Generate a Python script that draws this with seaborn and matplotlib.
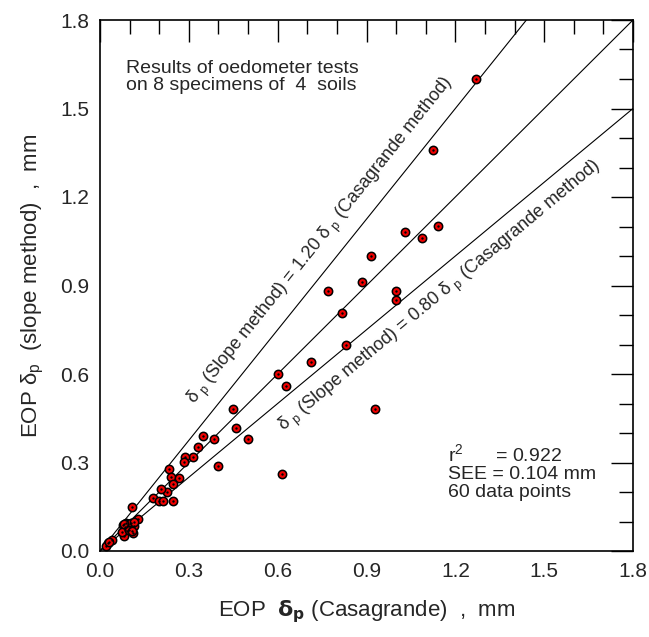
import numpy as np
import matplotlib
matplotlib.use('Agg')
import matplotlib.pyplot as plt
import seaborn as sns

# EOP settlement (mm): Casagrande method vs slope method
casagrande = [1.269, 1.126, 1.030, 1.089, 1.141, 0.915, 0.771, 0.885, 1.000, 1.000,
              0.816, 0.830, 0.711, 0.600, 0.628, 0.930, 0.614, 0.500, 0.448, 0.458,
              0.400, 0.347, 0.384, 0.331, 0.315, 0.287, 0.285, 0.233, 0.241, 0.267,
              0.248, 0.225, 0.206, 0.180, 0.200, 0.214, 0.248, 0.108, 0.128, 0.114,
              0.110, 0.088, 0.083, 0.078, 0.092, 0.080, 0.039, 0.027, 0.021, 0.095,
              0.100, 0.085, 0.090, 0.105, 0.075, 0.098, 0.030, 0.115, 0.082, 0.107]
slope_method = [1.601, 1.360, 1.080, 1.060, 1.101, 1.000, 0.880, 0.911, 0.880, 0.851,
                0.808, 0.700, 0.640, 0.600, 0.559, 0.480, 0.260, 0.380, 0.480, 0.416,
                0.289, 0.390, 0.380, 0.351, 0.319, 0.319, 0.303, 0.279, 0.252, 0.249,
                0.228, 0.199, 0.209, 0.179, 0.171, 0.171, 0.171, 0.150, 0.109, 0.085,
                0.060, 0.095, 0.083, 0.087, 0.069, 0.051, 0.036, 0.027, 0.018, 0.092,
                0.080, 0.070, 0.085, 0.095, 0.065, 0.072, 0.032, 0.100, 0.092, 0.068]

# reference lines as drawn in the figure
line_slopes = [1 / 0.8, 1.0, 1 / 1.2]
line_x = [0.0, 1.8]

ticks_major = [0.0, 0.3, 0.6, 0.9, 1.2, 1.5, 1.8]

sns.set_style('white')
plt.rcParams['font.family'] = ['Liberation Sans', 'DejaVu Sans']
plt.rcParams['mathtext.default'] = 'regular'

fig = plt.figure(figsize=(6.49, 6.37), dpi=100)
ax = fig.add_axes([100 / 649, 1 - 551 / 637, 533 / 649, 531 / 637])

for s in line_slopes:
    sns.lineplot(x=line_x, y=[s * v for v in line_x], color='black',
                 linewidth=0.8, ax=ax, legend=False)

sns.scatterplot(x=casagrande, y=slope_method, s=36, color='#f00000',
                edgecolor='black', linewidth=1.1, ax=ax, zorder=3, legend=False)
sns.scatterplot(x=casagrande, y=slope_method, s=3, color='black',
                edgecolor='black', linewidth=0, ax=ax, zorder=4, legend=False)

ax.set_xlim(0, 1.8)
ax.set_ylim(0, 1.8)
ax.set_xticks(ticks_major)
ax.set_yticks(ticks_major)
ax.set_xticklabels([f'{t:.1f}' for t in ticks_major])
ax.set_yticklabels([f'{t:.1f}' for t in ticks_major])
ax.set_xticks(np.arange(0, 1.81, 0.1), minor=True)
ax.set_yticks(np.arange(0, 1.81, 0.1), minor=True)
ax.tick_params(which='both', direction='in', top=True, right=True,
               color='black', width=1.0, labelsize=15, pad=8)
ax.tick_params(which='major', length=15.5)
ax.tick_params(which='minor', length=10)
for sp in ax.spines.values():
    sp.set_color('black')
    sp.set_linewidth(1.2)

ax.set_xlabel(r'EOP  $\mathbf{\delta_p}$ (Casagrande)  ,  mm', fontsize=16, labelpad=12)
ax.set_ylabel(r'EOP $\delta_p$  (slope method)  ,  mm', fontsize=16, labelpad=10)

ax.text(0.088, 1.665, 'Results of oedometer tests\non 8 specimens of  4  soils',
        fontsize=14, ha='left', va='top', linespacing=1.05)

ax.text(1.176, 0.365, 'r$^{2}$      = 0.922\nSEE = 0.104 mm\n60 data points',
        fontsize=14, ha='left', va='top', linespacing=1.05)

ang_hi = np.degrees(np.arctan(line_slopes[0]))
ang_lo = np.degrees(np.arctan(line_slopes[2]))
ax.text(0.745, 1.05, r'$\delta_{\ p}$ (Slope method) = 1.20 $\delta_{\ p}$ (Casagrande method)',
        fontsize=13, rotation=ang_hi, ha='center', va='center', rotation_mode='anchor')
ax.text(1.149, 0.863, r'$\delta_{\ p}$ (Slope method) = 0.80 $\delta_{\ p}$ (Casagrande method)',
        fontsize=13, rotation=ang_lo, ha='center', va='center', rotation_mode='anchor')

fig.savefig('out.png', dpi=100)
